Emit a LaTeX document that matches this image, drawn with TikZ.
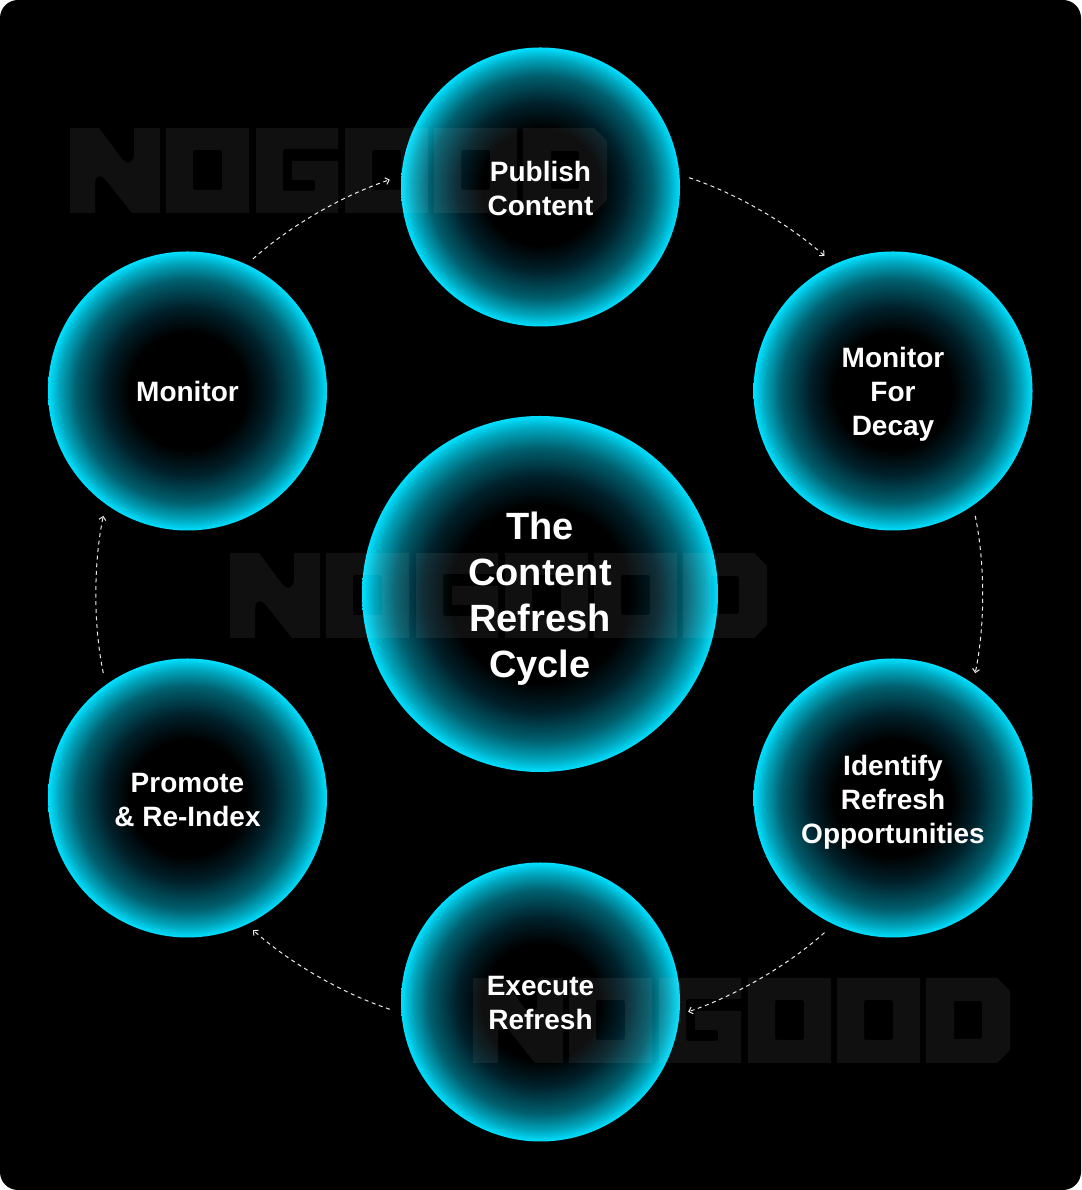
\documentclass[tikz,border=0pt]{standalone}
\usepackage{fontspec}
\setmainfont{Liberation Sans}
\usetikzlibrary{arrows.meta}
\definecolor{cy}{HTML}{00E0FF}
\definecolor{g1}{HTML}{00202A}
\definecolor{g2}{HTML}{005F6E}
\definecolor{g3}{HTML}{00A5BC}
\pgfdeclareradialshading{smallglow}{\pgfpoint{0bp}{0bp}}{color(0bp)=(black);color(10.5bp)=(black);color(15bp)=(g1);color(20bp)=(g2);color(23bp)=(g3);color(25bp)=(cy);color(50bp)=(cy)}
\pgfdeclareradialshading{bigglow}{\pgfpoint{0bp}{0bp}}{color(0bp)=(black);color(12.5bp)=(black);color(16.5bp)=(g1);color(20.5bp)=(g2);color(23.25bp)=(g3);color(25bp)=(cy);color(50bp)=(cy)}
\tikzset{
  ring/.style={circle,inner sep=0pt,outer sep=0pt,shade,shading=smallglow,minimum size=279pt},
  hubring/.style={circle,inner sep=0pt,outer sep=0pt,shade,shading=bigglow,minimum size=356pt},
  steplabel/.style={text=white,align=center,font=\fontsize{28}{34}\selectfont\bfseries,inner sep=0pt},
  hublabel/.style={text=white,align=center,font=\fontsize{38}{46}\selectfont\bfseries,inner sep=0pt},
  flow/.style={draw=white!92!black,line width=1pt,dash pattern=on 4pt off 3.6pt,
    -{Straight Barb[length=3.5pt,width=7pt,line width=1pt]},shorten <=10.8pt,shorten >=10.8pt,
    bend left=11.7,looseness=0.86},
  wmfill/.style={fill=white,fill opacity=0.062,even odd rule}
}
\newcommand{\wordmark}[2]{%
\begin{scope}[shift={(#1,#2)},yscale=-1]
\fill[wmfill]
  % N
  (0,0) -- (29,0) -- (52,31) [rounded corners=3pt] -- (58,36) -- (64,31) [sharp corners] -- (64,0) -- (90,0) -- (90,85) -- (62,85) -- (35,51) [rounded corners=3pt] -- (30,47) -- (25,51) [sharp corners] -- (25,85) -- (0,85) -- cycle
  % O
  (96,0) rectangle (179,85)
  [rounded corners=2pt] (123,22) rectangle (152,62) [sharp corners]
  % G
  (186,0) -- (268,0) -- (268,21) [rounded corners=2pt] -- (213,21) -- (213,63) -- (245,63) -- (245,52) [sharp corners] -- (222,52) -- (222,33) -- (268,33) -- (268,85) -- (186,85) -- cycle
  % O
  (275,0) rectangle (358,85)
  [rounded corners=2pt] (302,22) rectangle (331,62) [sharp corners]
  % O
  (364,0) rectangle (447,85)
  [rounded corners=2pt] (391,22) rectangle (420,62) [sharp corners]
  % D
  (453,0) -- (524,0) -- (537,13) -- (537,72) -- (524,85) -- (453,85) -- cycle
  (481,23) [rounded corners=2pt] -- (509,23) -- (509,61) [sharp corners] -- (481,61) -- cycle;
\end{scope}}
\begin{document}
\begin{tikzpicture}[x=1pt,y=1pt]
\useasboundingbox (0,0) rectangle (1081,1190);
\fill[white] (0,0) rectangle (1081,1190);
\fill[black,rounded corners=18pt] (0,0) rectangle (1081,1190);
% circles
\node[ring] (pub) at (540.5,1003) {};
\node[ring] (dec) at (893,799) {};
\node[ring] (ide) at (893,392) {};
\node[ring] (exe) at (540.5,188) {};
\node[ring] (pro) at (187.5,392) {};
\node[ring] (mon) at (187.5,799) {};
\node[hubring] (hub) at (540,596) {};
% faint marks lie over the circles, under the words
\wordmark{70}{1062}
\wordmark{230}{637}
\wordmark{473}{212}
% words
\node[steplabel] (publ) at ([yshift=-2pt]pub) {Publish\\Content};
\node[steplabel] (decl) at ([yshift=-3pt]dec) {Monitor\\For\\Decay};
\node[steplabel] (idel) at ([yshift=-4pt]ide) {Identify\\Refresh\\Opportunities};
\node[steplabel] (exel) at ([yshift=-1pt]exe) {Execute\\Refresh};
\node[steplabel] (prol) at ([yshift=-2pt]pro) {Promote\\\& Re-Index};
\node[steplabel] (monl) at ([yshift=-1pt]mon) {Monitor};
\node[hublabel] (hubl) at ([yshift=-5pt]hub) {The\\Content\\Refresh\\Cycle};
% connectors
\draw[flow] ([shift={(-0.5pt,0.5pt)}]pub.5) to ([shift={(-1.5pt,1.5pt)}]dec.115);
\draw[flow] (dec.-55) to (ide.55);
\draw[flow] ([shift={(-1.5pt,-1pt)}]ide.-115) to ([shift={(-1.5pt,-1pt)}]exe.-5);
\draw[flow] ([shift={(-1.5pt,1.5pt)}]exe.-175) to ([shift={(-1.5pt,1.5pt)}]pro.-65);
\draw[flow] ([xshift=-2pt]pro.125) to ([xshift=-2pt]mon.-125);
\draw[flow] ([shift={(-1.5pt,-1.5pt)}]mon.65) to ([shift={(-1.5pt,-1.5pt)}]pub.175);
\end{tikzpicture}
\end{document}
